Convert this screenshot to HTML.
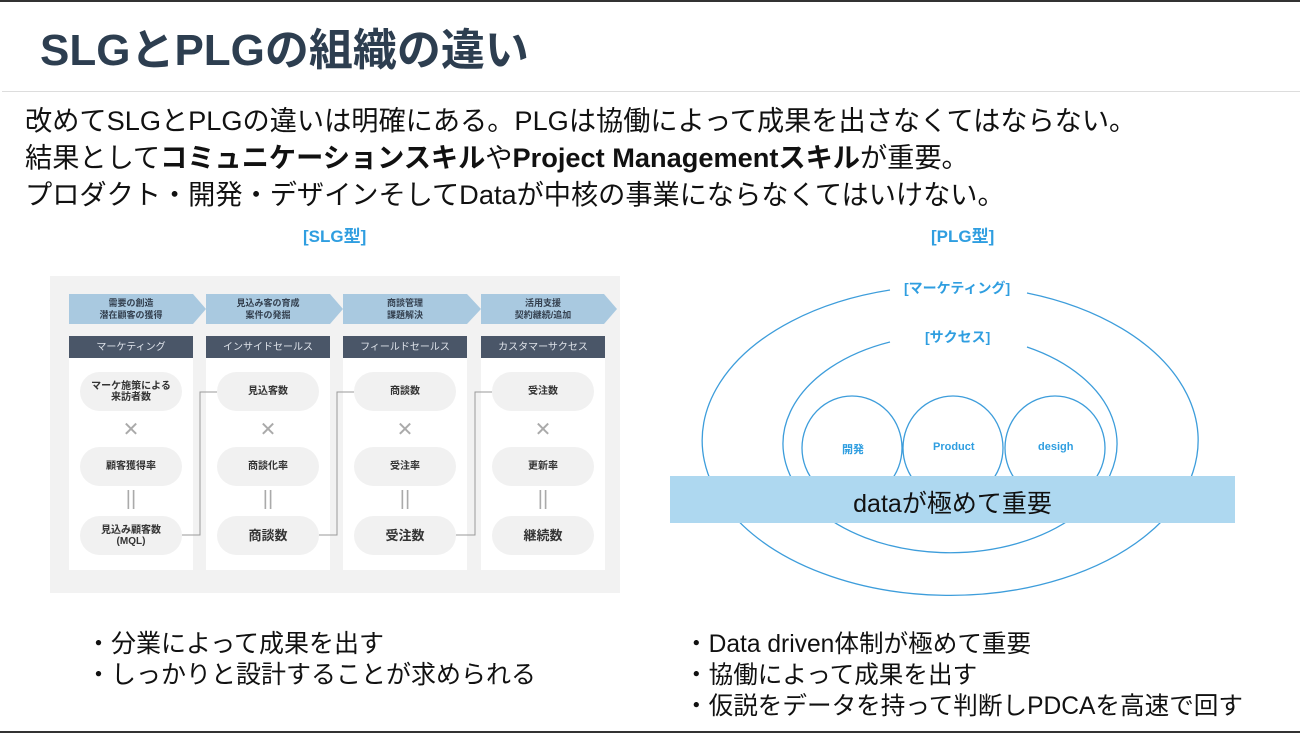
<!DOCTYPE html>
<html><head><meta charset="utf-8"><style>
*{margin:0;padding:0;box-sizing:border-box}
body{width:1300px;height:733px;background:#fff;position:relative;overflow:hidden;font-family:"Liberation Sans","Noto Sans CJK JP",sans-serif;color:#111}
.a{position:absolute;white-space:nowrap}
.col{position:absolute;top:358px;width:124px;height:212px;background:#fff}
.hd{position:absolute;top:336px;width:124px;height:23px;background:#4a5668;color:#dfe3ea;font-size:10px;text-align:center;line-height:23px}
.pill{position:absolute;width:102px;height:39px;border-radius:20px;background:#f1f1f1;color:#333;font-size:10px;font-weight:bold;display:flex;align-items:center;justify-content:center;text-align:center;line-height:11px}
.x{position:absolute;width:124px;text-align:center;color:#aaa;font-size:20px}
.ch{position:absolute;top:294px;height:30px;font-size:9px;font-weight:bold;color:#34404f;text-align:center;line-height:12px;padding-top:3px}
</style></head><body>
<div style="position:absolute;left:0;top:0;width:1300px;height:2px;background:#333"></div>
<div class="a" style="left:40px;top:14px;font-size:44px;font-weight:bold;color:#2d3e50">SLGとPLGの組織の違い</div>
<div style="position:absolute;left:2px;top:91px;width:1298px;height:1px;background:#ddd"></div>
<div class="a" style="left:25px;top:102px;font-size:27.2px;line-height:37px">改めてSLGとPLGの違いは明確にある。PLGは協働によって成果を出さなくてはならない。<br>結果として<b>コミュニケーションスキル</b>や<b>Project Managementスキル</b>が重要。<br>プロダクト・開発・デザインそしてDataが中核の事業にならなくてはいけない。</div>
<div class="a" style="left:303px;top:222px;font-size:17px;font-weight:bold;color:#2f9ee0">[SLG型]</div>
<div class="a" style="left:931px;top:222px;font-size:17px;font-weight:bold;color:#2f9ee0">[PLG型]</div>

<div style="position:absolute;left:50px;top:276px;width:570px;height:317px;background:#f2f2f2"></div>
<svg style="position:absolute;left:0;top:0" width="1300" height="733">
<g fill="#a9c9e0">
<polygon points="69,294 193,294 206,309 193,324 69,324"/>
<polygon points="206,294 330,294 343,309 330,324 206,324"/>
<polygon points="343,294 467,294 481,309 467,324 343,324"/>
<polygon points="481,294 604,294 617,309 604,324 481,324"/>
</g>
</svg>
<div class="ch" style="left:69px;width:124px">需要の創造<br>潜在顧客の獲得</div>
<div class="ch" style="left:206px;width:124px">見込み客の育成<br>案件の発掘</div>
<div class="ch" style="left:343px;width:124px">商談管理<br>課題解決</div>
<div class="ch" style="left:481px;width:124px">活用支援<br>契約継続/追加</div>

<div class="hd" style="left:69px">マーケティング</div>
<div class="hd" style="left:206px">インサイドセールス</div>
<div class="hd" style="left:343px">フィールドセールス</div>
<div class="hd" style="left:481px">カスタマーサクセス</div>
<div class="col" style="left:69px"></div><div class="col" style="left:206px"></div><div class="col" style="left:343px"></div><div class="col" style="left:481px"></div>

<div class="pill" style="left:80px;top:372px">マーケ施策による<br>来訪者数</div>
<div class="pill" style="left:80px;top:447px">顧客獲得率</div>
<div class="pill" style="left:80px;top:516px">見込み顧客数<br>(MQL)</div>
<div class="pill" style="left:217px;top:372px">見込客数</div>
<div class="pill" style="left:217px;top:447px">商談化率</div>
<div class="pill" style="left:217px;top:516px;font-size:13px">商談数</div>
<div class="pill" style="left:354px;top:372px">商談数</div>
<div class="pill" style="left:354px;top:447px">受注率</div>
<div class="pill" style="left:354px;top:516px;font-size:13px">受注数</div>
<div class="pill" style="left:492px;top:372px">受注数</div>
<div class="pill" style="left:492px;top:447px">更新率</div>
<div class="pill" style="left:492px;top:516px;font-size:13px">継続数</div>
<div class="x" style="left:69px;top:417px">✕</div><div class="x" style="left:206px;top:417px">✕</div><div class="x" style="left:343px;top:417px">✕</div><div class="x" style="left:481px;top:417px">✕</div>
<div class="x" style="left:69px;top:488px">||</div><div class="x" style="left:206px;top:488px">||</div><div class="x" style="left:343px;top:488px">||</div><div class="x" style="left:481px;top:488px">||</div>

<svg style="position:absolute;left:0;top:0" width="1300" height="733">
<g fill="none" stroke="#999" stroke-width="1">
<polyline points="182,535 200,535 200,392 217,392"/>
<polyline points="319,535 337,535 337,392 354,392"/>
<polyline points="456,535 475,535 475,392 492,392"/>
</g>
<g fill="none" stroke="#3d9ddb" stroke-width="1.3">
<path d="M890,290 A248,155 0 1 0 1027,293"/>
<path d="M890,342 A167,109 0 1 0 1027,347"/>
<ellipse cx="852" cy="448" rx="50" ry="52"/>
<ellipse cx="953" cy="448" rx="50" ry="52"/>
<ellipse cx="1055" cy="448" rx="50" ry="52"/>
</g>
<rect x="670" y="476" width="565" height="47" fill="#aed8f0"/>
</svg>
<div class="a" style="left:904px;top:278px;font-size:14px;font-weight:bold;color:#2f9ee0">[マーケティング]</div>
<div class="a" style="left:925px;top:327px;font-size:14px;font-weight:bold;color:#2f9ee0">[サクセス]</div>
<div class="a" style="left:842px;top:441px;font-size:11px;font-weight:bold;color:#2f9ee0">開発</div>
<div class="a" style="left:933px;top:441px;font-size:11px;font-weight:bold;color:#2f9ee0">Product</div>
<div class="a" style="left:1038px;top:441px;font-size:11px;font-weight:bold;color:#2f9ee0">desigh</div>
<div class="a" style="left:670px;top:484px;width:565px;text-align:center;font-size:25px;color:#111">dataが極めて重要</div>

<div class="a" style="left:86px;top:629px;font-size:25px;line-height:31px">・分業によって成果を出す<br>・しっかりと設計することが求められる</div>
<div class="a" style="left:684px;top:629px;font-size:24.6px;line-height:31px">・Data driven体制が極めて重要<br>・協働によって成果を出す<br>・仮説をデータを持って判断しPDCAを高速で回す</div>
<div style="position:absolute;left:0;top:731px;width:1300px;height:2px;background:#333"></div>
</body></html>
